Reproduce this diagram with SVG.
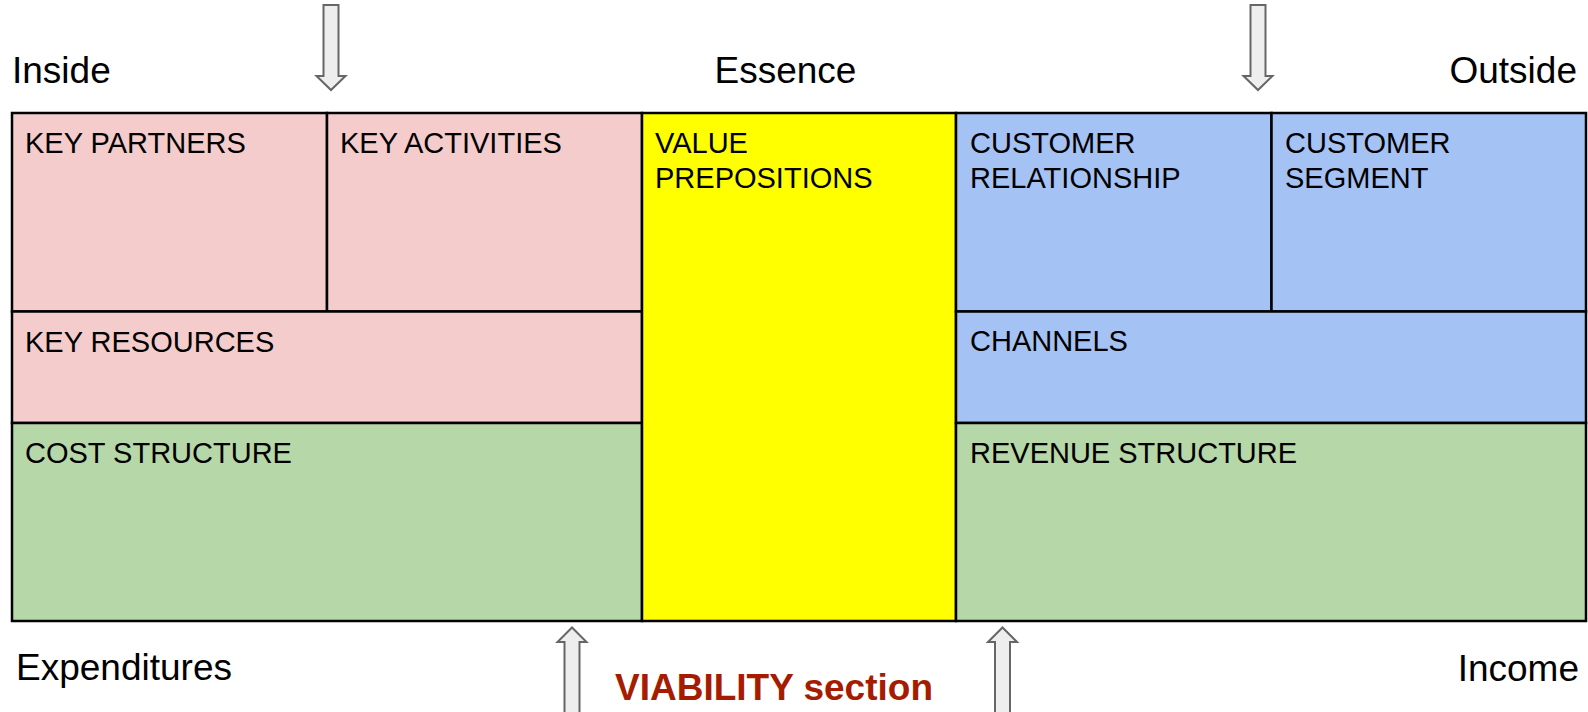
<svg xmlns="http://www.w3.org/2000/svg" width="1588" height="712" viewBox="0 0 1588 712">
<style>
.cell{stroke:#000;stroke-width:2.5}
.pink{fill:#f4cccc}
.blue{fill:#a4c2f4}
.green{fill:#b6d7a8}
.yellow{fill:#ffff00}
.lbl{font-family:"Liberation Sans",Arial,sans-serif;font-size:29px;fill:#000}
.side{font-family:"Liberation Sans",Arial,sans-serif;font-size:37px;fill:#000}
.via{font-family:"Liberation Sans",Arial,sans-serif;font-size:37px;font-weight:bold;fill:#a61c00}
.arr{fill:#eeeeee;stroke:#666666;stroke-width:2;stroke-linejoin:miter}
</style>
<rect width="1588" height="712" fill="#fff"/>
<g id="side-labels">
<text class="side" x="12" y="83">Inside</text>
<text class="side" x="785.5" y="83" text-anchor="middle">Essence</text>
<text class="side" x="1577" y="83" text-anchor="end">Outside</text>
<text class="side" x="16" y="680">Expenditures</text>
<text class="side" x="1579" y="681" text-anchor="end">Income</text>
<text class="via" x="615" y="700">VIABILITY section</text>
</g>
<g id="key-partners">
<rect class="cell pink" x="12" y="113" width="315" height="198.5"/>
<text class="lbl" x="25" y="153">KEY PARTNERS</text>
</g>
<g id="key-activities">
<rect class="cell pink" x="327" y="113" width="315" height="198.5"/>
<text class="lbl" x="340" y="153">KEY ACTIVITIES</text>
</g>
<g id="key-resources">
<rect class="cell pink" x="12" y="311.5" width="630" height="111.5"/>
<text class="lbl" x="25" y="351.5">KEY RESOURCES</text>
</g>
<g id="cost-structure">
<rect class="cell green" x="12" y="423" width="630" height="198"/>
<text class="lbl" x="25" y="463">COST STRUCTURE</text>
</g>
<g id="value-propositions">
<rect class="cell yellow" x="642" y="113" width="314" height="508"/>
<text class="lbl" x="655" y="153">VALUE</text>
<text class="lbl" x="655" y="188">PREPOSITIONS</text>
</g>
<g id="customer-relationship">
<rect class="cell blue" x="956" y="113" width="315.5" height="198.5"/>
<text class="lbl" x="970" y="153">CUSTOMER</text>
<text class="lbl" x="970" y="188">RELATIONSHIP</text>
</g>
<g id="customer-segment">
<rect class="cell blue" x="1271.5" y="113" width="314.5" height="198.5"/>
<text class="lbl" x="1285" y="153">CUSTOMER</text>
<text class="lbl" x="1285" y="188">SEGMENT</text>
</g>
<g id="channels">
<rect class="cell blue" x="956" y="311.5" width="630" height="111.5"/>
<text class="lbl" x="970" y="351">CHANNELS</text>
</g>
<g id="revenue-structure">
<rect class="cell green" x="956" y="423" width="630" height="198"/>
<text class="lbl" x="970" y="463">REVENUE STRUCTURE</text>
</g>
<g id="connectors">
<path class="arr" d="M323.5,5 H338.5 V76 H345.5 L331,90 L316.5,76 H323.5 Z"/>
<path class="arr" d="M1250.5,5 H1265.5 V76 H1272.5 L1258,90 L1243.5,76 H1250.5 Z"/>
<path class="arr" d="M564.5,716 V642 H557.5 L572,627.5 L586.5,642 H579.5 V716 Z"/>
<path class="arr" d="M995,716 V642 H988 L1002.5,627.5 L1017,642 H1010 V716 Z"/>
</g>
</svg>
